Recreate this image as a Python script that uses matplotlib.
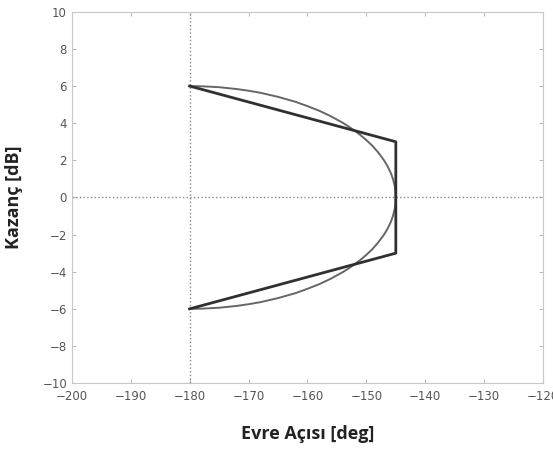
import matplotlib.pyplot as plt

# -----------------------------
# Data
# -----------------------------
box_phase = [-180, -145, -145, -180]
box_gain = [6, 3, -3, -6]

# upper half of the curve, mirrored below
arc_phase = [-180, -178, -175, -172, -170, -168, -165, -162, -160, -158,
             -156, -154, -153, -152, -151, -150, -149, -148, -147, -146.5,
             -146, -145.8, -145.5, -145.2, -145.1, -145]
arc_gain = [6.0, 5.99, 5.94, 5.84, 5.75, 5.64, 5.42, 5.15, 4.92, 4.67,
            4.37, 4.02, 3.82, 3.6, 3.36, 3.09, 2.79, 2.43, 2.00, 1.74,
            1.42, 1.28, 1.01, 0.64, 0.45, 0.0]

curve_phase = arc_phase + arc_phase[-2::-1]
curve_gain = arc_gain + [-g for g in arc_gain[-2::-1]]

x_ticks = [-200, -190, -180, -170, -160, -150, -140, -130, -120]
y_ticks = [-10, -8, -6, -4, -2, 0, 2, 4, 6, 8, 10]

# -----------------------------
# Figure
# -----------------------------
fig = plt.figure(figsize=(5.53, 4.55), dpi=100)
ax = fig.add_axes([0.130, 0.158, 0.852, 0.816])

ax.axvline(-180, color="#888888", linestyle=":", linewidth=1)
ax.axhline(0, color="#888888", linestyle=":", linewidth=1)

ax.plot(curve_phase, curve_gain, color="#666666", linewidth=1.4)
ax.plot(box_phase, box_gain, color="#303030", linewidth=2)

ax.set_xlim(-200, -120)
ax.set_ylim(-10, 10)
ax.set_xticks(x_ticks)
ax.set_yticks(y_ticks)
ax.set_xticklabels([f"\u2212{abs(v)}" if v < 0 else str(v) for v in x_ticks])
ax.set_yticklabels([f"\u2212{abs(v)}" if v < 0 else str(v) for v in y_ticks])

ax.tick_params(direction="in", top=True, right=True, length=3,
               color="#bbbbbb", labelcolor="#555555", labelsize=8.5)
ax.tick_params(axis="x", pad=5)
for s in ax.spines.values():
    s.set_color("#c8c8c8")

ax.set_xlabel("Evre Açısı [deg]", fontsize=13, fontweight="bold",
              family="Open Sans", color="#222222", labelpad=16)
ax.set_ylabel("Kazanç [dB]", fontsize=13, fontweight="bold",
              family="Open Sans", color="#222222", labelpad=14)

fig.savefig("out.png", dpi=100)
